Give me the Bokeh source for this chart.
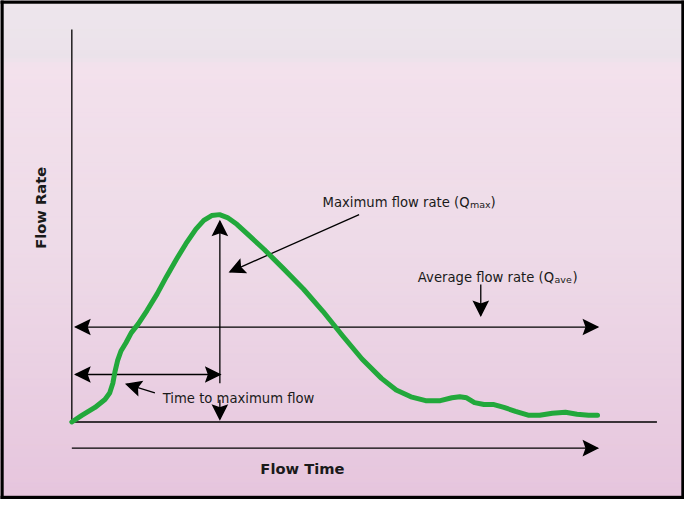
import numpy as np
from bokeh.plotting import figure
from bokeh.models import Range1d
from bokeh.embed import file_html
from bokeh.resources import INLINE
from bokeh.core.properties import value

# ---- data (time units 0..100, flow units) ----
time = [0, 1.9, 4.4, 6.3, 7.2, 7.8, 8.2, 8.7, 9.35, 10.3, 11.3, 12.6, 14.3, 16.2, 18.0,
        19.9, 21.7, 23.6, 25.1, 26.6, 28.1, 29.6, 31.4, 33.8, 36.6, 40.3, 44.1, 47.8,
        51.5, 55.2, 58.9, 61.7, 64.5, 67.3, 70.1, 72.3, 73.8, 75.1, 76.6, 78.4, 80.3,
        82.2, 84.4, 86.8, 89.0, 91.4, 93.9, 96.1, 98.3, 100]
flow = [0, 2.7, 6.0, 9.3, 12.0, 16.0, 20.7, 25.3, 29.3, 32.7, 36.8, 40.4, 46.0, 52.8, 60.0,
        67.2, 73.6, 79.6, 83.2, 85.2, 85.6, 84.4, 81.6, 76.8, 71.2, 63.2, 54.8, 45.6,
        35.6, 26.0, 18.0, 13.2, 10.4, 8.8, 8.8, 10.0, 10.4, 10.0, 8.0, 7.2, 7.2,
        6.0, 4.4, 2.8, 2.8, 3.6, 4.0, 3.2, 2.8, 2.8]

peak_time = 28.16
end_time = 100
axis_top = 162
axis_right = 111.3

# annotation arrows: (x_start, y_start, x_end, y_end, double_headed)
arrows_x0 = [0, 28.16, 0.74, 28.16, 0.74, 77.79, 54.65, 15.8]
arrows_y0 = [-10.8, 16.0, 19.6, 9.2, 39.2, 56.8, 85.6, 12.0]
arrows_x1 = [100, 28.16, 28.16, 28.16, 100, 77.79, 30.11, 10.41]
arrows_y1 = [-10.8, 82.8, 19.6, 1.2, 39.2, 44.0, 62.0, 15.6]
arrows_dbl = [False, False, True, False, True, False, False, False]

# reference-pixel <-> data mapping (used for arrowhead shapes and ranges)
SX, OX = 5.38, 73.0
SY, OY = 2.5, 435.0


def to_px(t, q):
    return OX + t * SX, OY - q * SY


def from_px(px, py):
    return (px - OX) / SX, (OY - py) / SY


X0, Y0 = from_px(0, 515)
X1, Y1 = from_px(700, 0)

p = figure(width=684, height=499, output_backend="svg", toolbar_location=None,
           x_range=Range1d(X0, X1), y_range=Range1d(Y0, Y1),
           x_axis_location=None, y_axis_location=None, min_border=0)
p.xgrid.visible = False
p.ygrid.visible = False
p.outline_line_color = None
p.background_fill_color = "#ecdae6"
p.border_fill_color = "#ecdae6"

# ---- background gradient (style) ----
stop_py = np.array([0, 60, 67, 250, 515], float)
stop_c = np.array([(238, 230, 237), (235, 226, 234), (243, 225, 236), (238, 219, 232), (230, 197, 221)], float)
edges_py = np.linspace(0, 515, 121)
tops, bots, cols = [], [], []
for i in range(len(edges_py) - 1):
    mid = 0.5 * (edges_py[i] + edges_py[i + 1])
    rgb = [np.interp(mid, stop_py, stop_c[:, k]) for k in range(3)]
    cols.append("#%02x%02x%02x" % tuple(int(round(v)) for v in rgb))
    tops.append(from_px(0, edges_py[i])[1])
    bots.append(from_px(0, edges_py[i + 1])[1])
p.quad(left=X0, right=X1, top=tops, bottom=bots, fill_color=cols, line_color=cols,
       line_width=1, level="image")

# ---- axes lines ----
p.line([0, 0], [0, axis_top], line_color="black", line_width=1.3)
p.line([0, axis_right], [0, 0], line_color="black", line_width=1.3)

# ---- arrows ----
HL, HW, HN = 14.0, 7.0, 11.5   # head length, half width, notch (ref px)


def head(tip_t, tip_q, from_t, from_q):
    tx, ty = to_px(tip_t, tip_q)
    fx, fy = to_px(from_t, from_q)
    d = np.array([tx - fx, ty - fy])
    d = d / np.hypot(*d)
    n = np.array([-d[1], d[0]])
    tip = np.array([tx, ty])
    back = tip - HL * d
    pts = [tip, back + HW * n, tip - HN * d, back - HW * n]
    xs, ys = zip(*[from_px(*pt) for pt in pts])
    return [float(v) for v in xs], [float(v) for v in ys]


hx, hy = [], []
for xs0, ys0, xs1, ys1, dbl in zip(arrows_x0, arrows_y0, arrows_x1, arrows_y1, arrows_dbl):
    a, b = head(xs1, ys1, xs0, ys0)
    hx.append(a); hy.append(b)
    if dbl:
        a, b = head(xs0, ys0, xs1, ys1)
        hx.append(a); hy.append(b)

p.segment(x0=arrows_x0, y0=arrows_y0, x1=arrows_x1, y1=arrows_y1,
          line_color="black", line_width=1.3, level="underlay")
p.patches(hx, hy, fill_color="black", fill_alpha=1.0, line_color="black", line_width=1.5,
          line_join="miter", level="underlay")

# ---- curve ----
p.line(time, flow, line_color="#22a83b", line_width=5, line_join="round", line_cap="round")

# ---- texts ----
font = value("DejaVu Sans")
fs = "13.2px"
tc = "#1a1a1a"
main_t = [from_px(480, 0)[0], from_px(566.5, 0)[0]]
p.text(x=main_t, y=[from_px(0, 208.3)[1], from_px(0, 285.7)[1]],
       text=["Maximum flow rate (Q", "Average flow rate (Q"],
       text_font=font, text_font_size=fs, text_align="right", text_baseline="alphabetic",
       text_color=tc)
p.text(x=[from_px(480.5, 0)[0], from_px(567, 0)[0]],
       y=[from_px(0, 210.8)[1], from_px(0, 288.2)[1]], text=["max", "ave"],
       text_font=font, text_font_size="9.5px", text_align="left", text_baseline="alphabetic",
       text_color=tc)
p.text(x=[from_px(501.5, 0)[0], from_px(585.5, 0)[0]],
       y=[from_px(0, 208.3)[1], from_px(0, 285.7)[1]], text=[")", ")"],
       text_font=font, text_font_size=fs, text_align="left", text_baseline="alphabetic",
       text_color=tc)
p.text(x=[from_px(166, 0)[0]], y=[from_px(0, 411)[1]], text=["Time to maximum flow"],
       text_font=font, text_font_size=fs, text_align="left", text_baseline="alphabetic",
       text_color=tc)
p.text(x=[from_px(309, 0)[0]], y=[from_px(0, 483.3)[1]], text=["Flow Time"], text_font=font,
       text_font_size="14.7px", text_font_style="bold", text_align="center",
       text_baseline="alphabetic", text_color=tc)
p.text(x=[from_px(47.5, 0)[0]], y=[from_px(0, 214)[1]], text=["Flow Rate"], text_font=font,
       text_font_size="14.7px", text_font_style="bold", text_align="center",
       text_baseline="middle", angle=np.pi / 2, text_color=tc, x_offset=-6)

# ---- black frame (style) ----
bx0, by0 = from_px(3, 3)
bx1, by1 = from_px(697, 511.5)
p.quad(left=[X0, X0, bx1, X0], right=[bx0, X1, X1, X1],
       top=[Y1, Y1, Y1, by1], bottom=[Y0, by0, Y0, Y0],
       fill_color="black", line_color="black", line_width=0.5)

open("out.html", "w").write(file_html(p, INLINE))
